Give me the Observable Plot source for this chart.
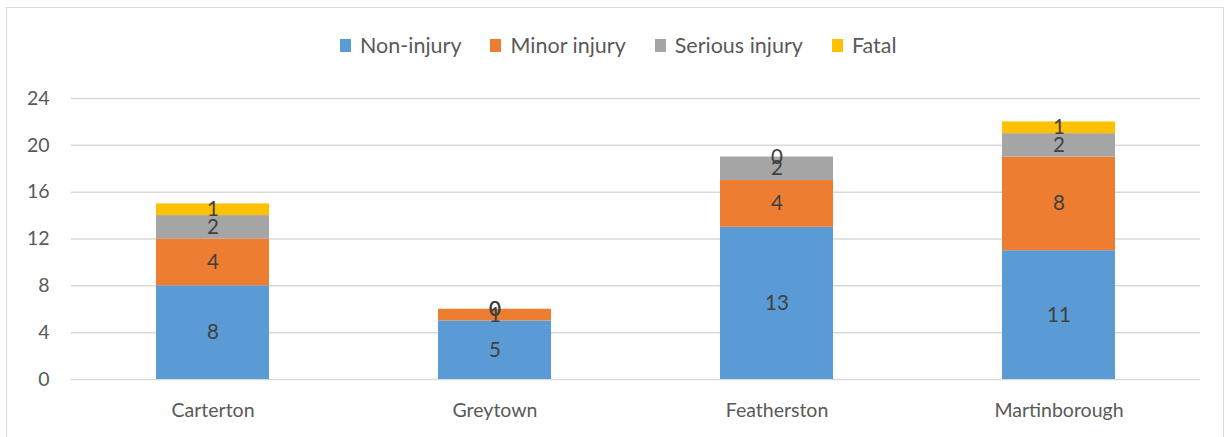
<!DOCTYPE html>
<html><head><meta charset="utf-8">
<script src="https://cdn.jsdelivr.net/npm/d3@7"></script>
<script src="https://cdn.jsdelivr.net/npm/@observablehq/plot@0.6"></script>
<style>
body{margin:0;background:#fff;font-family:Lato,"Open Sans",sans-serif;}
#frame{position:absolute;left:6px;top:7px;width:1218px;height:440px;border:1.5px solid #d9d9d9;box-sizing:border-box;}
#legend{position:absolute;left:340px;top:32px;display:flex;font-size:21.5px;color:#595959;}
#legend span.item{display:flex;align-items:center;margin-right:29px;}
#legend span.sw{display:inline-block;width:11px;height:13px;margin-right:9px;}
#chart{position:absolute;left:0;top:60px;}
</style></head>
<body>
<div id="frame"></div>
<div id="legend"></div>
<div id="chart"></div>
<script>
const towns = ["Carterton", "Greytown", "Featherston", "Martinborough"];
const types = ["Non-injury", "Minor injury", "Serious injury", "Fatal"];
const colors = ["#5B9BD5", "#ED7D31", "#A5A5A5", "#FFC000"];
const nonInjury = [8, 5, 13, 11];
const minorInjury = [4, 1, 4, 8];
const seriousInjury = [2, 0, 2, 2];
const fatal = [1, 0, 0, 1];
const yTicks = [0, 4, 8, 12, 16, 20, 24];

const series = [nonInjury, minorInjury, seriousInjury, fatal];
const data = [];
types.forEach((t, i) => towns.forEach((town, j) => data.push({town, type: t, value: series[i][j]})));

const legend = document.getElementById("legend");
types.forEach((t, i) => {
  const it = document.createElement("span"); it.className = "item";
  const sw = document.createElement("span"); sw.className = "sw"; sw.style.background = colors[i];
  it.appendChild(sw); it.appendChild(document.createTextNode(t));
  legend.appendChild(it);
});

const plot = Plot.plot({
  width: 1228, height: 377,
  marginTop: 38, marginBottom: 58, marginLeft: 71, marginRight: 28,
  style: {fontFamily: "Lato, 'Open Sans', sans-serif", fontSize: "19.5px", color: "#595959", background: "transparent"},
  x: {domain: towns, paddingInner: 0.6, paddingOuter: 0.3, label: null},
  y: {domain: [0, 24], ticks: yTicks, label: null},
  color: {domain: types, range: colors},
  marks: [
    Plot.ruleY(yTicks, {stroke: "#d9d9d9", strokeWidth: 1.5}),
    Plot.barY(data, Plot.stackY({x: "town", y: "value", z: "type", fill: "type", order: null})),
    Plot.text(data, Plot.stackY({x: "town", y: "value", z: "type", order: null, text: d => String(d.value), fill: "#404040", fontSize: 20.5})),
    Plot.axisY({ticks: yTicks, tickSize: 0, tickPadding: 22, fontSize: 19.5}),
    Plot.axisX({tickSize: 0, tickPadding: 24, fontSize: 19.5})
  ]
});
document.getElementById("chart").appendChild(plot);
</script>
</body></html>
